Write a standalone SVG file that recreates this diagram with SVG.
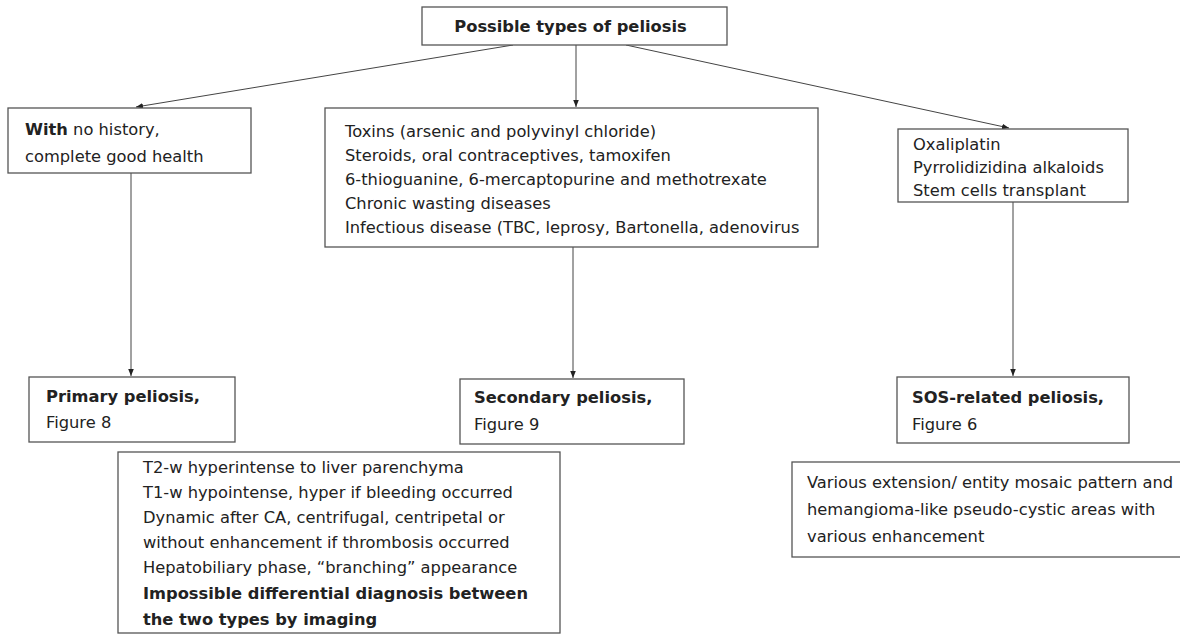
<svg xmlns="http://www.w3.org/2000/svg" width="1180" height="634" viewBox="0 0 1180 634">
<defs>
<marker id="ah" viewBox="0 0 10 10" refX="10" refY="5" markerWidth="7" markerHeight="7" orient="auto" markerUnits="userSpaceOnUse">
<path d="M0,1 L10,5 L0,9 z" fill="#222"/>
</marker>
<style>
.box{fill:#fff;stroke:#555;stroke-width:1.3}
.t{font-family:"DejaVu Sans",sans-serif;font-size:16.3px;fill:#222}
.b{font-weight:bold}
.c{stroke:#444;stroke-width:1;fill:none;marker-end:url(#ah)}
</style>
</defs>
<rect width="1180" height="634" fill="#fff"/>
<g id="connectors">
<line class="c" x1="513" y1="45" x2="136" y2="107"/>
<line class="c" x1="576" y1="45" x2="576" y2="107"/>
<line class="c" x1="626" y1="45" x2="1009" y2="128"/>
<line class="c" x1="131" y1="173" x2="131" y2="376"/>
<line class="c" x1="573" y1="247" x2="573" y2="378"/>
<line class="c" x1="1013" y1="202" x2="1013" y2="376"/>
</g>
<g id="top">
<rect class="box" x="422" y="7" width="305" height="38"/>
<text class="t b" x="570.5" y="32" text-anchor="middle">Possible types of peliosis</text>
</g>
<g id="nohistory">
<rect class="box" x="8" y="108" width="243" height="65"/>
<text class="t" x="25" y="135"><tspan class="b">With</tspan> no history,</text>
<text class="t" x="25" y="162">complete good health</text>
</g>
<g id="causes">
<rect class="box" x="325" y="108" width="493" height="139"/>
<text class="t" x="345" y="137">Toxins (arsenic and polyvinyl chloride)</text>
<text class="t" x="345" y="161">Steroids, oral contraceptives, tamoxifen</text>
<text class="t" x="345" y="185">6-thioguanine, 6-mercaptopurine and methotrexate</text>
<text class="t" x="345" y="209">Chronic wasting diseases</text>
<text class="t" x="345" y="233">Infectious disease (TBC, leprosy, Bartonella, adenovirus</text>
</g>
<g id="sos-causes">
<rect class="box" x="898" y="129" width="230" height="73"/>
<text class="t" x="913" y="150">Oxaliplatin</text>
<text class="t" x="913" y="173">Pyrrolidizidina alkaloids</text>
<text class="t" x="913" y="196">Stem cells transplant</text>
</g>
<g id="primary">
<rect class="box" x="29" y="377" width="206" height="65"/>
<text class="t b" x="46" y="402">Primary peliosis,</text>
<text class="t" x="46" y="428">Figure 8</text>
</g>
<g id="secondary">
<rect class="box" x="460" y="379" width="224" height="65"/>
<text class="t b" x="474" y="403">Secondary peliosis,</text>
<text class="t" x="474" y="430">Figure 9</text>
</g>
<g id="sos">
<rect class="box" x="897" y="377" width="232" height="66"/>
<text class="t b" x="912" y="403">SOS-related peliosis,</text>
<text class="t" x="912" y="430">Figure 6</text>
</g>
<g id="imaging">
<rect class="box" x="118" y="452" width="442" height="181"/>
<text class="t" x="143" y="473">T2-w hyperintense to liver parenchyma</text>
<text class="t" x="143" y="498">T1-w hypointense, hyper if bleeding occurred</text>
<text class="t" x="143" y="523">Dynamic after CA, centrifugal, centripetal or</text>
<text class="t" x="143" y="548">without enhancement if thrombosis occurred</text>
<text class="t" x="143" y="573">Hepatobiliary phase, “branching” appearance</text>
<text class="t b" x="143" y="599">Impossible differential diagnosis between</text>
<text class="t b" x="143" y="625">the two types by imaging</text>
</g>
<g id="sos-imaging">
<rect class="box" x="792" y="462" width="400" height="95"/>
<text class="t" x="807" y="488">Various extension/ entity mosaic pattern and</text>
<text class="t" x="807" y="515">hemangioma-like pseudo-cystic areas with</text>
<text class="t" x="807" y="542">various enhancement</text>
</g>
</svg>
